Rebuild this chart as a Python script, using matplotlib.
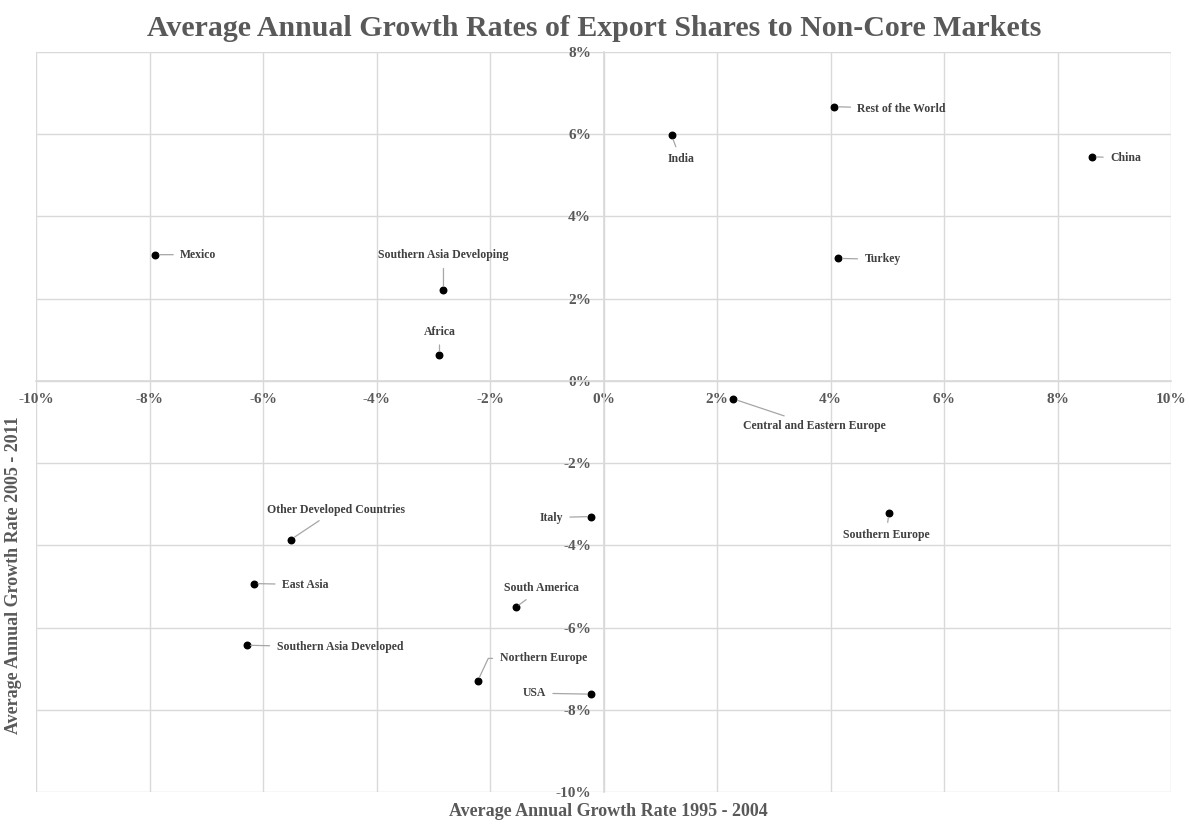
import matplotlib.pyplot as plt
from matplotlib.ticker import FuncFormatter

plt.rcParams['font.family'] = ['Liberation Serif', 'DejaVu Serif']
plt.rcParams['font.weight'] = 'bold'

regions = ["Mexico", "Southern Asia Developing", "Africa", "India", "Rest of the World",
           "China", "Turkey", "Central and Eastern Europe", "Italy", "Southern Europe",
           "Other Developed Countries", "East Asia", "South America",
           "Southern Asia Developed", "Northern Europe", "USA"]
growth_1995_2004 = [-7.90, -2.82, -2.89, 1.20, 4.07, 8.61, 4.14, 2.29, -0.22, 5.03,
                    -5.51, -6.16, -1.55, -6.29, -2.22, -0.22]
growth_2005_2011 = [3.07, 2.20, 0.63, 5.97, 6.67, 5.45, 2.98, -0.44, -3.30, -3.22,
                    -3.86, -4.93, -5.51, -6.43, -7.31, -7.62]

# label offsets in pixels and alignment
label_pos = {
    "Mexico": (25, 0, "left"),
    "Southern Asia Developing": (0, 35, "center"),
    "Africa": (0, 23, "center"),
    "India": (9, -24, "center"),
    "Rest of the World": (23, -2, "left"),
    "China": (18, -1, "left"),
    "Turkey": (26, -1, "left"),
    "Central and Eastern Europe": (81, -27, "center"),
    "Italy": (-28, -1, "right"),
    "Southern Europe": (-3, -22, "center"),
    "Other Developed Countries": (45, 30, "center"),
    "East Asia": (28, -1, "left"),
    "South America": (26, 19, "center"),
    "Southern Asia Developed": (30, -2, "left"),
    "Northern Europe": (22, 23, "left"),
    "USA": (-45, 1, "right"),
}

grid_c = "#d9d9d9"
text_c = "#595959"

fig = plt.figure(figsize=(11.89, 8.26), dpi=100)
ax = fig.add_axes([36 / 1189, 34 / 826, 1135 / 1189, 740 / 826])

ax.scatter(growth_1995_2004, growth_2005_2011, s=22, color="black", zorder=3)

for name, x, y in zip(regions, growth_1995_2004, growth_2005_2011):
    dx, dy, ha = label_pos[name]
    conn = "arc3"
    if name == "Northern Europe":
        conn = "angle,angleA=0,angleB=65,rad=0"
    ax.annotate(name, (x, y), xytext=(dx, dy), textcoords="offset pixels",
                ha=ha, va="center", fontsize=8.5, fontweight="bold", color="#404040",
                arrowprops=dict(arrowstyle="-", color="#a6a6a6", lw=0.9,
                                shrinkA=3, shrinkB=3, connectionstyle=conn),
                zorder=4)

ax.set_xlim(-10, 10)
ax.set_ylim(-10, 8)
ax.set_xticks(range(-10, 11, 2))
ax.set_yticks(range(-10, 9, 2))
pct = FuncFormatter(lambda v, p: f"{v:.0f}%")
ax.xaxis.set_major_formatter(pct)
ax.yaxis.set_major_formatter(pct)
ax.grid(True, color=grid_c, lw=1)
ax.set_axisbelow(True)
for gl in ax.get_xgridlines() + ax.get_ygridlines():
    gl.set_clip_on(False)

for s in ["top", "right"]:
    ax.spines[s].set_visible(False)
for s in ["left", "bottom"]:
    ax.spines[s].set_position("zero")
    ax.spines[s].set_color(grid_c)
    ax.spines[s].set_linewidth(1.2)
ax.tick_params(length=0, labelsize=11, labelcolor=text_c, pad=9)
for lbl in ax.get_xticklabels() + ax.get_yticklabels():
    lbl.set_fontweight("bold")

fig.text(0.5, 1 - 29 / 826, "Average Annual Growth Rates of Export Shares to Non-Core Markets",
         ha="center", va="center", fontsize=21.5, fontweight="bold", color=text_c)
fig.text(608 / 1189, 1 - 811 / 826, "Average Annual Growth Rate 1995 - 2004",
         ha="center", va="center", fontsize=13, fontweight="bold", color=text_c)
fig.text(14 / 1189, 1 - 575 / 826, "Average Annual Growth Rate 2005 - 2011",
         ha="center", va="center", rotation=90, fontsize=13, fontweight="bold", color=text_c)

fig.savefig("out.png", dpi=100)
